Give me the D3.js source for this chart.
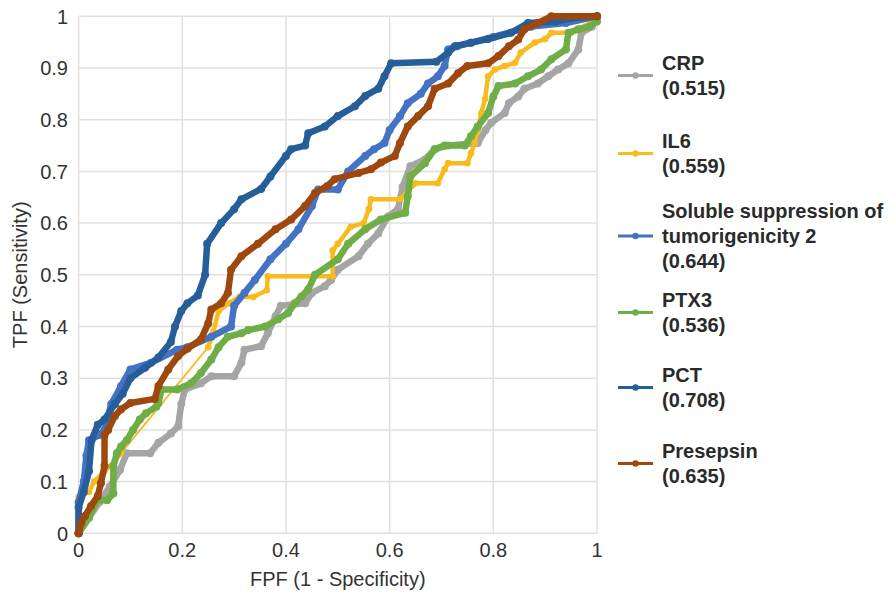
<!DOCTYPE html>
<html>
<head>
<meta charset="utf-8">
<script src="https://cdn.jsdelivr.net/npm/d3@7"></script>
<style>
  body { margin: 0; background: #fff; }
  text { font-family: "Liberation Sans", Arial, Helvetica, sans-serif; }
</style>
</head>
<body>
<div id="chart"></div>
<script>
// ROC points [FPF, TPF]
const crpPoints = [[0,0],[0.02,0.03],[0.04,0.06],[0.06,0.09],[0.08,0.123],[0.093,0.155],[0.138,0.155],[0.154,0.175],[0.178,0.193],[0.192,0.207],[0.198,0.25],[0.205,0.278],[0.236,0.29],[0.256,0.304],[0.3,0.304],[0.314,0.33],[0.32,0.355],[0.352,0.362],[0.365,0.387],[0.38,0.42],[0.39,0.44],[0.437,0.445],[0.45,0.465],[0.475,0.478],[0.487,0.49],[0.5,0.51],[0.54,0.536],[0.558,0.56],[0.578,0.58],[0.597,0.613],[0.616,0.627],[0.625,0.67],[0.64,0.71],[0.668,0.723],[0.687,0.743],[0.713,0.75],[0.77,0.755],[0.785,0.78],[0.796,0.794],[0.822,0.813],[0.83,0.832],[0.848,0.845],[0.86,0.86],[0.886,0.87],[0.906,0.884],[0.925,0.897],[0.945,0.909],[0.964,0.936],[0.97,0.968],[0.99,0.98],[1,1]];
const il6Points = [[0,0],[0,0.07],[0.02,0.08],[0.03,0.1],[0.05,0.12],[0.07,0.14],[0.082,0.155],[0.25,0.36],[0.26,0.39],[0.27,0.43],[0.29,0.445],[0.31,0.457],[0.337,0.457],[0.363,0.47],[0.365,0.497],[0.49,0.497],[0.49,0.547],[0.5,0.56],[0.525,0.593],[0.55,0.6],[0.56,0.627],[0.564,0.646],[0.62,0.646],[0.65,0.677],[0.693,0.677],[0.706,0.704],[0.713,0.716],[0.75,0.716],[0.757,0.735],[0.764,0.755],[0.77,0.78],[0.777,0.813],[0.784,0.84],[0.79,0.884],[0.803,0.897],[0.822,0.904],[0.842,0.91],[0.853,0.93],[0.88,0.949],[0.9,0.956],[0.912,0.968],[0.95,0.968],[0.964,0.975],[0.977,0.98],[1,1]];
const st2Points = [[0,0],[0,0.06],[0.01,0.1],[0.015,0.15],[0.02,0.18],[0.04,0.19],[0.05,0.2],[0.063,0.25],[0.082,0.285],[0.1,0.317],[0.14,0.33],[0.19,0.355],[0.21,0.36],[0.256,0.38],[0.294,0.4],[0.3,0.44],[0.32,0.465],[0.34,0.49],[0.37,0.53],[0.4,0.56],[0.424,0.588],[0.45,0.633],[0.462,0.665],[0.5,0.665],[0.52,0.7],[0.553,0.73],[0.57,0.743],[0.59,0.755],[0.6,0.78],[0.62,0.807],[0.635,0.832],[0.66,0.85],[0.674,0.87],[0.693,0.884],[0.706,0.904],[0.713,0.936],[0.73,0.942],[0.757,0.949],[0.8,0.96],[0.873,0.98],[0.94,0.987],[1,1]];
const ptx3Points = [[0,0],[0.02,0.03],[0.035,0.064],[0.055,0.064],[0.067,0.077],[0.067,0.13],[0.074,0.155],[0.082,0.168],[0.093,0.18],[0.105,0.2],[0.118,0.22],[0.13,0.232],[0.15,0.245],[0.154,0.252],[0.16,0.278],[0.19,0.278],[0.217,0.29],[0.236,0.31],[0.256,0.336],[0.27,0.36],[0.288,0.38],[0.314,0.387],[0.327,0.393],[0.36,0.4],[0.385,0.414],[0.404,0.426],[0.417,0.445],[0.43,0.458],[0.443,0.472],[0.456,0.5],[0.5,0.53],[0.52,0.56],[0.553,0.588],[0.583,0.607],[0.63,0.62],[0.635,0.652],[0.64,0.69],[0.668,0.716],[0.687,0.743],[0.706,0.75],[0.745,0.75],[0.757,0.768],[0.77,0.787],[0.79,0.813],[0.8,0.845],[0.81,0.865],[0.842,0.87],[0.867,0.884],[0.892,0.897],[0.912,0.917],[0.94,0.936],[0.945,0.968],[0.964,0.975],[0.985,0.98],[1,0.99]];
const pctPoints = [[0,0],[0,0.05],[0.01,0.08],[0.02,0.12],[0.025,0.18],[0.037,0.21],[0.05,0.22],[0.07,0.25],[0.085,0.27],[0.1,0.3],[0.128,0.32],[0.154,0.34],[0.178,0.37],[0.186,0.4],[0.198,0.43],[0.21,0.445],[0.23,0.46],[0.244,0.5],[0.248,0.56],[0.275,0.6],[0.3,0.627],[0.314,0.646],[0.352,0.666],[0.37,0.69],[0.4,0.73],[0.41,0.743],[0.437,0.75],[0.443,0.774],[0.475,0.787],[0.5,0.807],[0.533,0.826],[0.553,0.846],[0.578,0.86],[0.59,0.884],[0.603,0.909],[0.69,0.912],[0.713,0.93],[0.726,0.942],[0.757,0.949],[0.79,0.956],[0.834,0.968],[0.867,0.987],[0.92,0.99],[0.95,0.996],[1,1]];
const presepsinPoints = [[0,0],[0.005,0.02],[0.012,0.033],[0.024,0.053],[0.037,0.072],[0.043,0.097],[0.05,0.13],[0.05,0.19],[0.057,0.2],[0.07,0.227],[0.082,0.24],[0.1,0.252],[0.147,0.26],[0.154,0.285],[0.173,0.317],[0.192,0.343],[0.21,0.357],[0.236,0.375],[0.25,0.406],[0.256,0.433],[0.275,0.445],[0.288,0.465],[0.294,0.51],[0.314,0.536],[0.346,0.56],[0.38,0.588],[0.41,0.607],[0.437,0.633],[0.456,0.658],[0.48,0.672],[0.494,0.685],[0.54,0.697],[0.564,0.704],[0.583,0.717],[0.61,0.73],[0.62,0.755],[0.635,0.787],[0.655,0.807],[0.674,0.826],[0.687,0.86],[0.713,0.87],[0.732,0.89],[0.75,0.904],[0.79,0.909],[0.81,0.923],[0.83,0.942],[0.848,0.955],[0.86,0.975],[0.886,0.987],[0.912,1],[1,1]];

const seriesNames = ["CRP", "IL6", "Soluble suppression of|tumorigenicity 2", "PTX3", "PCT", "Presepsin"];
const aucValues = ["0.515", "0.559", "0.644", "0.536", "0.708", "0.635"];
const seriesColors = ["#a5a5a5", "#f7bb1d", "#4472c4", "#6fad47", "#255e99", "#9e480e"];
const seriesPoints = [crpPoints, il6Points, st2Points, ptx3Points, pctPoints, presepsinPoints];

const xTicks = [0, 0.2, 0.4, 0.6, 0.8, 1];
const yTicks = [0, 0.1, 0.2, 0.3, 0.4, 0.5, 0.6, 0.7, 0.8, 0.9, 1];

const width = 896;
const height = 594;

const x = d3.scaleLinear().domain([0, 1]).range([78.6, 597]);
const y = d3.scaleLinear().domain([0, 1]).range([533.3, 16.3]);

const svg = d3.select("#chart")
  .append("svg")
  .attr("width", width)
  .attr("height", height);

// grid
svg.append("g")
  .selectAll("line")
  .data(xTicks)
  .enter().append("line")
  .attr("x1", d => x(d)).attr("x2", d => x(d))
  .attr("y1", y(0)).attr("y2", y(1))
  .attr("stroke", "#e2dfdf")
  .attr("stroke-width", 1.5);

svg.append("g")
  .selectAll("line")
  .data(yTicks)
  .enter().append("line")
  .attr("x1", x(0)).attr("x2", x(1))
  .attr("y1", d => y(d)).attr("y2", d => y(d))
  .attr("stroke", "#e2dfdf")
  .attr("stroke-width", 1.5);

// tick labels
svg.append("g")
  .selectAll("text")
  .data(xTicks)
  .enter().append("text")
  .attr("x", d => x(d))
  .attr("y", 557)
  .attr("text-anchor", "middle")
  .style("font-size", "20px")
  .style("fill", "#333")
  .text(d => d3.format("~g")(d));

svg.append("g")
  .selectAll("text")
  .data(yTicks)
  .enter().append("text")
  .attr("x", 68)
  .attr("y", d => y(d))
  .attr("dy", "0.36em")
  .attr("text-anchor", "end")
  .style("font-size", "20px")
  .style("fill", "#333")
  .text(d => d3.format("~g")(d));

// axis titles
svg.append("text")
  .attr("x", (x(0) + x(1)) / 2)
  .attr("y", 586)
  .attr("text-anchor", "middle")
  .style("font-size", "20px")
  .style("fill", "#333")
  .text("FPF (1 - Specificity)");

svg.append("text")
  .attr("transform", `translate(27,${(y(0) + y(1)) / 2}) rotate(-90)`)
  .attr("text-anchor", "middle")
  .style("font-size", "20px")
  .style("fill", "#333")
  .text("TPF (Sensitivity)");

// curves, legend order so Presepsin ends on top
const line = d3.line().x(d => x(d[0])).y(d => y(d[1]));

seriesPoints.forEach((pts, i) => {
  const g = svg.append("g");
  const thick = i === 1 ? 4.5 : 6.5;

  g.append("path")
    .attr("d", line(pts))
    .attr("fill", "none")
    .attr("stroke", seriesColors[i])
    .attr("stroke-width", 1.8);

  // long jumps (gaps with no markers) stay thin, the rest is the thick marker band
  g.selectAll("line")
    .data(d3.pairs(pts).filter(p => {
      const dx = x(p[1][0]) - x(p[0][0]);
      const dy = y(p[1][1]) - y(p[0][1]);
      return Math.hypot(dx, dy) < 100;
    }))
    .enter().append("line")
    .attr("x1", p => x(p[0][0])).attr("y1", p => y(p[0][1]))
    .attr("x2", p => x(p[1][0])).attr("y2", p => y(p[1][1]))
    .attr("stroke", seriesColors[i])
    .attr("stroke-width", thick)
    .attr("stroke-linecap", "round");

  g.selectAll("circle")
    .data(pts)
    .enter().append("circle")
    .attr("cx", d => x(d[0]))
    .attr("cy", d => y(d[1]))
    .attr("r", i === 1 ? 3.3 : 4)
    .attr("fill", seriesColors[i]);
});

// legend
const legendFirstBaselines = [70, 148, 218, 307, 382, 458];
const lineGap = 25;

const legend = svg.append("g").attr("class", "legend");

seriesNames.forEach((name, i) => {
  const lines = name.split("|").concat(["(" + aucValues[i] + ")"]);
  const b0 = legendFirstBaselines[i];
  const last = b0 + (lines.length - 1) * lineGap;
  const ly = (b0 - 14 + last) / 2;

  legend.append("line")
    .attr("x1", 618).attr("x2", 653)
    .attr("y1", ly).attr("y2", ly)
    .attr("stroke", seriesColors[i])
    .attr("stroke-width", 3);

  legend.append("circle")
    .attr("cx", 635.5).attr("cy", ly)
    .attr("r", 3.2)
    .attr("fill", seriesColors[i]);

  lines.forEach((t, j) => {
    legend.append("text")
      .attr("x", 662)
      .attr("y", b0 + j * lineGap)
      .style("font-size", "20px")
      .style("font-weight", "bold")
      .style("fill", "#2a2a2a")
      .text(t);
  });
});
</script>
</body>
</html>
